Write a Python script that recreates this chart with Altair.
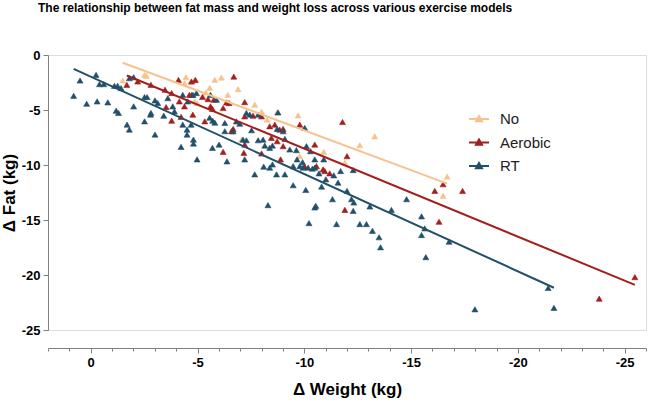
import altair as alt
import pandas as pd

# ---- data (Δ Weight kg, Δ Fat kg) ----
no_w = [-1.50, -2.52, -2.61, -4.46, -4.39, -4.70, -4.86, -4.87, -5.81, -6.12, -6.90, -5.39,
        -4.98, -8.73, -9.71, -8.26, -9.79, -7.06, -13.30, -12.60, -10.91, -11.90, -16.69,
        -16.50, -5.57, -6.42, -7.68, -8.00, -5.26]
no_f = [-2.32, -1.81, -1.90, -2.02, -2.56, -2.41, -4.22, -2.32, -2.26, -2.05, -3.10, -3.41,
        -4.37, -5.22, -5.49, -5.88, -9.20, -7.69, -7.39, -8.20, -8.80, -9.79, -11.06,
        -12.81, -2.98, -3.62, -4.52, -5.15, -3.77]

aer_w = [-1.69, -2.20, -2.82, -3.48, -3.79, -4.11, -4.15, -3.53, -3.79, -4.23, -4.39, -4.62,
         -4.73, -4.90, -4.78, -6.70, -4.72, -5.23, -5.49, -5.76, -6.36, -6.48, -7.21, -5.61,
         -5.70, -6.20, -7.21, -7.60, -8.00, -5.34, -6.67, -6.59, -8.38, -8.62, -8.85, -9.01,
         -8.46, -8.73, -9.79, -9.01, -10.49, -7.21, -7.17, -6.20, -8.00, -8.89, -10.57,
         -10.02, -11.79, -12.00, -10.88, -10.96, -11.19, -11.90, -16.11, -16.50, -16.31,
         -17.41, -23.81, -25.48]
aer_f = [-2.71, -2.41, -2.71, -3.16, -3.46, -2.26, -4.22, -4.73, -5.97, -5.63, -4.67, -3.62,
         -3.62, -2.26, -5.42, -1.96, -2.41, -3.82, -4.01, -4.07, -4.31, -4.37, -4.28, -4.67,
         -4.91, -4.82, -5.58, -5.52, -5.58, -6.03, -6.72, -6.93, -6.48, -6.33, -6.78, -6.72,
         -7.53, -7.84, -6.33, -8.29, -8.14, -8.14, -8.89, -8.80, -8.95, -9.49, -10.10,
         -10.15, -6.09, -9.20, -10.40, -10.55, -10.76, -14.08, -12.36, -11.75, -15.16,
         -12.36, -22.15, -20.19]

rt_w = [0.80, 0.50, 0.19, -0.30, -0.80, -0.41, -0.61, -0.25, -1.19, -1.30, -1.11, -1.26,
        -1.42, -1.81, -2.01, -2.01, -1.70, -1.81, -2.52, -2.52, -2.64, -2.82, -2.80, -3.01,
        -3.01, -3.14, -3.42, -3.61, -3.84, -3.92, -4.23, -4.31, -4.31, -4.51, -4.51, -4.54,
        -4.70, -4.81, -4.81, -4.98, -4.79, -4.95, -5.61, -5.89, -5.57, -5.71, -5.81, -6.28,
        -6.82, -6.98, -6.67, -6.28, -7.29, -7.45, -7.84, -8.77, -10.02, -7.53, -7.13, -7.29,
        -7.84, -8.07, -8.15, -8.38, -8.51, -8.73, -9.01, -9.09, -5.70, -6.01, -7.21, -6.38,
        -7.68, -8.10, -8.38, -8.51, -8.70, -9.09, -9.48, -9.79, -9.94, -10.18, -10.49, -9.48,
        -10.07, -8.30, -10.54, -9.32, -9.63, -9.66, -9.92, -10.10, -10.29, -10.49, -10.91,
        -10.38, -10.69, -11.38, -11.70, -12.29, -11.01, -11.58, -10.81, -12.00, -11.32,
        -10.49, -12.21, -12.32, -12.29, -13.07, -14.08, -14.79, -15.49, -15.64, -15.49,
        -11.51, -12.60, -12.91, -13.19, -13.50, -13.57, -15.69, -16.78, -10.22, -21.42,
        -17.99, -21.69]
rt_f = [-3.71, -2.32, -4.43, -4.22, -4.31, -2.65, -2.65, -1.81, -5.06, -5.27, -2.80, -2.80,
        -3.01, -2.11, -2.02, -4.67, -6.33, -6.78, -6.03, -3.82, -3.82, -5.27, -5.42, -7.23,
        -4.13, -4.37, -5.52, -3.92, -4.67, -5.13, -8.35, -3.62, -6.33, -6.78, -7.23, -4.22,
        -6.33, -7.69, -8.05, -9.49, -3.62, -3.46, -3.62, -4.07, -5.70, -5.97, -6.15, -6.18,
        -6.03, -6.24, -6.93, -6.93, -5.27, -5.42, -5.42, -5.22, -6.63, -6.84, -7.69, -7.75,
        -7.75, -7.69, -8.23, -8.44, -8.23, -6.72, -6.93, -7.62, -8.44, -8.14, -9.49, -9.67,
        -10.85, -10.15, -10.24, -9.95, -10.85, -10.85, -10.10, -10.10, -10.24, -10.24, -10.24,
        -11.84, -12.27, -13.65, -13.71, -8.59, -8.65, -9.49, -9.74, -8.29, -8.74, -9.49,
        -9.49, -10.33, -10.76, -10.94, -10.55, -10.46, -11.30, -11.60, -11.96, -12.36,
        -13.11, -13.86, -13.11, -13.41, -14.17, -13.77, -14.08, -13.11, -14.67, -15.76,
        -16.37, -15.37, -15.37, -15.37, -15.98, -16.57, -17.48, -18.38, -16.97, -15.28,
        -21.18, -23.12, -22.99]

groups = ["No", "Aerobic", "RT"]
colors = ["#F7C28C", "#A31F1D", "#22506A"]
x_ticks = list(range(2, -27, -1))
y_ticks = [0, -5, -10, -15, -20, -25]

rows = []
for g, ws, fs in [("No", no_w, no_f), ("Aerobic", aer_w, aer_f), ("RT", rt_w, rt_f)]:
    for w, f in zip(ws, fs):
        rows.append({"group": g, "weight": w, "fat": f})
df = pd.DataFrame(rows)

font = "Liberation Sans"

xs = alt.Scale(domain=[-26, 2], reverse=True, nice=False, zero=False)
ys = alt.Scale(domain=[-25, 0], nice=False, zero=False)
cs = alt.Scale(domain=groups, range=colors)

x_axis = alt.Axis(
    values=x_ticks,
    labelExpr="datum.value % 5 === 0 ? '' + datum.value : ''",
    labelOverlap=False, labelFlush=False, labelBound=False,
    tickSize={"condition": {"test": "datum.value % 5 === 0", "value": 5}, "value": 3},
    offset=18, grid=False, domainColor="#808080", tickColor="#808080",
    labelFont=font, labelFontSize=13, labelFontWeight="bold", labelColor="#000000",
    labelPadding=3, title="Δ Weight (kg)", titleFont=font, titleFontSize=17,
    titleFontWeight="bold", titleColor="#000000", titlePadding=12,
)
y_axis = alt.Axis(
    values=y_ticks,
    labelExpr="'' + datum.value",
    labelOverlap=False, labelFlush=False,
    tickSize=5, grid=False, domainColor="#808080", tickColor="#808080",
    labelFont=font, labelFontSize=13, labelFontWeight="bold", labelColor="#000000",
    labelPadding=3, title="Δ Fat (kg)", titleFont=font, titleFontSize=17,
    titleFontWeight="bold", titleColor="#000000", titlePadding=3,
)

legend_path = "M-1,0L1,0M-0.3,0.22L0,-0.3L0.3,0.22Z"
leg = alt.Legend(
    title=None, orient="none", legendX=420, legendY=53,
    symbolType=legend_path, symbolSize=400, symbolStrokeWidth=2,
    labelFont=font, labelFontSize=15, labelColor="#222222",
    rowPadding=4.5, labelOffset=10,
)

points = alt.Chart(df).mark_point(
    shape="triangle-up", filled=True, size=36, opacity=1, strokeWidth=0.6
).encode(
    x=alt.X("weight:Q", scale=xs, axis=x_axis),
    y=alt.Y("fat:Q", scale=ys, axis=y_axis),
    color=alt.Color("group:N", scale=cs, legend=leg),
    stroke=alt.Stroke("group:N", scale=cs, legend=leg),
)

lines = alt.Chart(df).transform_regression(
    "weight", "fat", groupby=["group"]
).mark_line(strokeWidth=2).encode(
    x=alt.X("weight:Q", scale=xs, axis=x_axis),
    y=alt.Y("fat:Q", scale=ys, axis=y_axis),
    stroke=alt.Stroke("group:N", scale=cs, legend=leg),
)

chart = alt.layer(points, lines).properties(
    width=598, height=275,
    title=alt.TitleParams(
        "The relationship between fat mass and weight loss across various exercise  models",
        font=font, fontSize=12, fontWeight="bold", color="#000000",
        anchor="start", frame="group", dx=-10, offset=34,
    ),
    autosize=alt.AutoSizeParams(type="none"),
    padding={"left": 48, "top": 55, "right": 3, "bottom": 72},
).configure_view(stroke=None).configure_axis(
    labelOverlap=False
).configure(background="white")

chart.save("out.html", embed_options={"renderer": "svg", "actions": False})
